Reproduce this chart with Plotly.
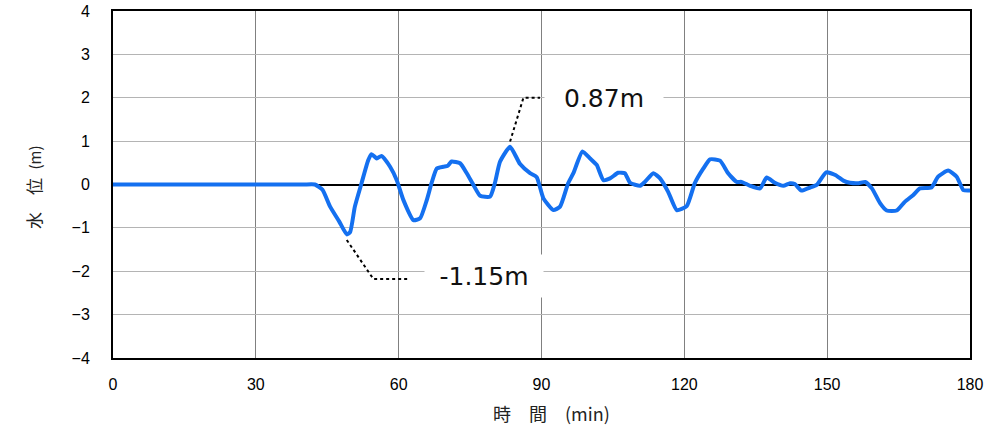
import plotly.graph_objects as go

# time (min) and water level (m)
t_min = [0, 15.0, 30.0, 40.0, 42.4, 44.0, 45.6, 47.5, 49.1, 49.8, 50.8, 52.2, 53.6, 54.3, 55.4, 56.4, 58.2, 59.6,
         61.0, 63.1, 64.5, 65.9, 66.9, 68.0, 69.4, 70.3, 71.1, 72.9, 74.3, 75.7, 77.1, 79.2,
         80.2, 81.3, 83.4, 85.5, 87.6, 89.0, 90.4, 92.5, 93.9, 95.6, 96.7, 98.6, 100.2,
         101.6, 103.0, 104.4, 106.1, 107.5, 108.6, 110.7, 111.7, 113.5, 114.9, 116.6, 118.4,
         120.5, 122.2, 124.0, 125.4, 127.5, 129.2, 131.0, 132.0, 133.8, 135.9, 137.3, 139.0,
         140.8, 142.2, 143.2, 144.6, 146.4, 147.8, 149.8, 151.7, 153.4, 154.8, 156.6, 158.0,
         159.4, 161.1, 162.5, 164.6, 166.3, 168.1, 169.5, 171.9, 173.3, 175.4, 177.2, 178.6,
         179.7, 180.0]
level_m = [0, 0, 0, 0, 0, -0.12, -0.51, -0.85, -1.15, -1.10, -0.51, 0.03, 0.56, 0.70, 0.60, 0.66, 0.41, 0.10,
           -0.36, -0.82, -0.78, -0.36, 0.03, 0.37, 0.41, 0.43, 0.53, 0.49, 0.26, -0.01, -0.26, -0.28,
           0.03, 0.53, 0.87, 0.47, 0.26, 0.17, -0.32, -0.59, -0.51, 0.03, 0.26, 0.76, 0.60,
           0.45, 0.10, 0.14, 0.27, 0.26, 0.04, -0.03, 0.06, 0.26, 0.14, -0.17, -0.59,
           -0.50, 0.03, 0.37, 0.58, 0.55, 0.26, 0.06, 0.06, -0.03, -0.09, 0.16, 0.04,
           -0.03, 0.03, 0.01, -0.14, -0.07, -0.01, 0.28, 0.22, 0.09, 0.04, 0.03, 0.06,
           -0.09, -0.43, -0.60, -0.60, -0.40, -0.24, -0.09, -0.07, 0.18, 0.32, 0.18, -0.13,
           -0.14, -0.14]
assert len(t_min) == len(level_m), (len(t_min), len(level_m))

x_ticks = [0, 30, 60, 90, 120, 150, 180]
y_ticks = [-4, -3, -2, -1, 0, 1, 2, 3, 4]

# annotation labels and their leader lines
max_label = "0.87m"
max_label_pos = (103.1, 2.0)
max_leader_t = [83.4, 86.2, 89.7]
max_leader_h = [0.99, 2.0, 2.0]
min_label = "-1.15m"
min_label_pos = (77.9, -2.12)
min_leader_t = [49.1, 54.7, 62.0]
min_leader_h = [-1.28, -2.18, -2.18]

W, H = 1007, 428
ML, MR, MT, MB = 113, 37, 11, 70
plot_w = W - ML - MR
plot_h = H - MT - MB

fig = go.Figure()
fig.add_trace(go.Scatter(x=t_min, y=level_m, mode="lines",
                         line=dict(color="#1470f0", width=4, shape="spline", smoothing=0.5),
                         showlegend=False))
for lt, lh in [(max_leader_t, max_leader_h), (min_leader_t, min_leader_h)]:
    fig.add_trace(go.Scatter(x=lt, y=lh, mode="lines",
                             line=dict(color="black", width=2, dash="dot"), showlegend=False))

for txt, (ax, ay) in [(max_label, max_label_pos), (min_label, min_label_pos)]:
    fig.add_annotation(x=ax, y=ay, xref="x", yref="y", text=txt, showarrow=False,
                       font=dict(family="DejaVu Sans", size=25, color="#111"),
                       bgcolor="white", width=116, height=40, borderpad=1)

# axis titles (positioned in pixels, converted to paper coordinates)
fig.add_annotation(x=(33 - ML) / plot_w, y=(H - MB - 187) / plot_h,
                   xref="paper", yref="paper", xanchor="center", yanchor="middle",
                   text="水\u3000位\u2002<span style='font-size:15px'>(m)</span>",
                   textangle=-90, showarrow=False,
                   font=dict(family="Noto Sans CJK JP", size=17, color="#222"))
fig.add_annotation(x=(551 - ML) / plot_w, y=(H - MB - 413) / plot_h,
                   xref="paper", yref="paper", xanchor="center", yanchor="middle",
                   text="時\u3000間\u3000<span style='font-size:18px'>(min)</span>",
                   showarrow=False,
                   font=dict(family="Noto Sans CJK JP", size=18, color="#222"))

fig.update_layout(
    width=W, height=H,
    margin=dict(l=ML, r=MR, t=MT, b=MB),
    paper_bgcolor="white", plot_bgcolor="white",
    font=dict(family="Liberation Sans, Arial", size=15, color="black"),
)
fig.update_xaxes(range=[0, 180], tickvals=x_ticks, showgrid=True, gridcolor="#808080",
                 gridwidth=1, showline=True, linecolor="black", linewidth=2, mirror=True,
                 zeroline=False, ticks="", ticklabelstandoff=11, automargin=False,
                 tickfont=dict(family="Liberation Sans, Arial", size=16))
fig.update_yaxes(range=[-4, 4], tickvals=y_ticks, showgrid=True, gridcolor="#b4b4b4",
                 gridwidth=1, showline=True, linecolor="black", linewidth=2, mirror=True,
                 zeroline=True, zerolinecolor="black", zerolinewidth=1.5, ticks="",
                 ticklabelstandoff=18, automargin=False,
                 tickfont=dict(family="Liberation Sans, Arial", size=16))

fig.write_html("out.html")
